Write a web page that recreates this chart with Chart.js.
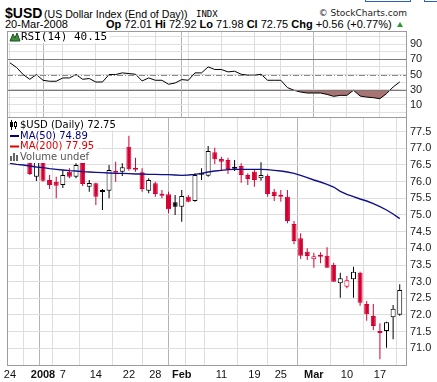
<!DOCTYPE html>
<html lang="en">
<head>
<meta charset="UTF-8">
<title>$USD Daily with RSI</title>
<script src="https://cdn.jsdelivr.net/npm/chart.js"></script>
<style>
body { margin: 0; background: #fff; }
#wrap { position: relative; width: 437px; height: 382px; overflow: hidden; font-family: "Liberation Sans", Arial, sans-serif; }
#wrap canvas { position: absolute; left: 0; top: 0; }
.t { position: absolute; white-space: nowrap; color: #000; }
.btn { position: absolute; border: 1px solid #2f5fc4; }
</style>
</head>
<body>
<div id="wrap">
  <div class="btn" style="left:365px;top:-10px;width:44px;height:10px"></div>
  <div class="btn" style="left:424px;top:-10px;width:20px;height:10px"></div>

  <div class="t" style="left:5px;top:6px;font:bold 14px/14px 'Liberation Sans',Arial">$USD</div>
  <div class="t" style="left:44px;top:9px;font:10.6px/11px 'Liberation Sans',Arial">(US Dollar Index (End of Day))</div>
  <div class="t" style="left:196px;top:10px;font:9px/9px 'DejaVu Sans Mono'">INDX</div>
  <div class="t" style="right:30px;top:9px;font:9px/9px 'DejaVu Sans';color:#222">© StockCharts.com</div>
  <div class="t" style="left:5px;top:19px;font:11px/11px 'Liberation Sans',Arial">20-Mar-2008</div>
  <div class="t" style="left:106px;top:19px;font:11px/11px 'Liberation Sans',Arial"><b>Op</b> 72.01 <b>Hi</b> 72.92 <b>Lo</b> 71.98 <b>Cl</b> 72.75 <b>Chg</b> +0.56 (+0.77%)</div>
  <div style="position:absolute;left:397px;top:22px;width:0;height:0;border-left:3px solid transparent;border-right:3px solid transparent;border-bottom:5px solid #2a9a2a"></div>

  <canvas id="rsiChart" width="437" height="382"></canvas>
  <canvas id="priceChart" width="437" height="382"></canvas>
</div>

<script>
// trading days shown, Dec 24 2007 .. Mar 20 2008
var dates = ['Dec 24','Dec 26','Dec 27','Dec 28','Dec 31',
  'Jan 2','Jan 3','Jan 4','Jan 7','Jan 8','Jan 9','Jan 10','Jan 11','Jan 14','Jan 15','Jan 16','Jan 17','Jan 18',
  'Jan 22','Jan 23','Jan 24','Jan 25','Jan 28','Jan 29','Jan 30','Jan 31',
  'Feb 1','Feb 4','Feb 5','Feb 6','Feb 7','Feb 8','Feb 11','Feb 12','Feb 13','Feb 14','Feb 15',
  'Feb 19','Feb 20','Feb 21','Feb 22','Feb 25','Feb 26','Feb 27','Feb 28','Feb 29',
  'Mar 3','Mar 4','Mar 5','Mar 6','Mar 7','Mar 10','Mar 11','Mar 12','Mar 13','Mar 14',
  'Mar 17','Mar 18','Mar 19','Mar 20'];

var openP = [77.15,77.00,76.95,76.78,76.15, 76.62,76.05,76.00,75.90,76.30,76.15,76.56,75.85,75.95,75.75,75.73,76.33,76.30,
  77.05,76.42,76.28,75.73,75.95,75.64,75.62,75.38, 75.25,75.55,75.42,76.27,76.18,76.88,76.68,76.65,76.45,76.47,76.20,
  76.30,76.10,76.17,75.70,75.61,75.55,74.73,74.30,73.90, 73.67,73.81,73.78,73.50,72.95,72.85,73.07,73.27,72.33,71.97,
  71.52,71.52,71.93,72.01];
var highP = [77.30,77.20,77.00,76.82,76.65, 76.66,76.20,76.15,76.35,76.40,76.55,76.58,76.05,75.97,75.78,76.50,76.60,76.55,
  77.38,76.72,76.40,76.10,76.00,75.75,75.70,75.60, 75.75,75.60,76.25,76.40,77.07,77.02,76.75,76.72,76.65,76.55,76.25,
  76.35,76.58,76.22,75.78,75.75,75.75,74.82,74.45,74.00, 73.87,73.88,74.03,73.57,73.27,73.17,73.45,73.30,72.42,72.33,
  71.75,71.80,72.30,72.92];
var lowP = [76.95,76.85,76.70,76.20,76.02, 76.00,75.78,75.50,75.81,76.10,76.10,75.87,75.70,75.30,75.15,75.50,76.00,76.17,
  76.33,76.30,75.70,75.65,75.55,75.50,75.05,75.00, 74.80,75.38,75.40,76.05,76.15,76.53,76.35,76.23,76.32,75.97,75.90,
  75.85,76.03,75.55,75.42,75.40,74.75,74.12,73.68,73.65, 73.42,73.55,73.42,73.00,72.52,72.80,72.52,72.28,71.83,71.55,
  70.67,71.02,71.27,71.98];
var closeP = [77.05,76.95,76.75,76.23,76.60, 76.03,75.90,75.88,76.20,76.15,76.50,75.93,75.96,75.55,75.69,76.35,76.27,76.43,
  76.37,76.36,75.78,76.05,75.63,75.58,75.17,75.25, 75.57,75.40,76.20,76.21,76.92,76.67,76.60,76.38,76.39,76.20,76.08,
  76.05,76.20,75.63,75.57,75.55,74.82,74.22,73.78,73.77, 73.76,73.75,73.42,73.00,73.10,73.04,73.30,72.37,72.02,71.67,
  71.46,71.78,72.19,72.75];

var ma50 = [76.55,76.52,76.50,76.47,76.44, 76.42,76.39,76.37,76.35,76.33,76.32,76.30,76.29,76.28,76.27,76.26,76.25,76.25,
  76.24,76.23,76.23,76.22,76.22,76.21,76.21,76.20, 76.19,76.20,76.22,76.25,76.29,76.32,76.34,76.36,76.37,76.37,76.37,
  76.37,76.37,76.36,76.34,76.32,76.29,76.25,76.19,76.12, 76.05,75.99,75.92,75.84,75.71,75.62,75.55,75.48,75.42,75.34,
  75.25,75.15,75.03,74.89];
var ma200Last = 77.95;

var rsi14 = [65.5,59.3,50.0,43.7,50.0, 42.4,41.1,41.1,45.5,45.5,50.0,43.7,44.7,40.1,40.1,50.0,50.0,52.2,
  51.3,50.4,41.5,45.5,42.4,42.4,37.1,38.8, 43.3,42.4,52.2,52.2,60.1,56.7,56.7,53.5,54.4,50.4,49.1,
  49.1,50.4,42.4,42.4,42.4,32.7,29.1,26.8,25.5, 25.5,25.5,23.7,21.1,22.4,22.4,29.1,21.5,20.1,19.3,
  18.0,24.7,33.5,40.15];

// x axis: weekly grid lines, some labelled
var tickIdx  = [0, 4, 5, 8, 13, 18, 22, 26, 27, 32, 37, 41, 46, 51, 56];
var tickText = ['24', '', '2008', '7', '14', '22', '28', 'Feb', '', '11', '19', '25', 'Mar', '10', '17'];
var monthIdx = [5, 26, 46];

var priceTicks = [71.0, 71.5, 72.0, 72.5, 73.0, 73.5, 74.0, 74.5, 75.0, 75.5, 76.0, 76.5, 77.0, 77.5];
var rsiTicks = [0, 10, 20, 30, 40, 50, 60, 70, 80, 90, 100];
var rsiLabels = [90, 70, 50, 30, 10];

var xMin = -0.45, xMax = 60.1;
var downColor = '#d40032', upColor = '#000000';

var candleColor = closeP.map(function (c, i) { return (i > 0 && c < closeP[i - 1]) ? downColor : upColor; });
var bodyFill = closeP.map(function (c, i) { return c > openP[i] ? '#ffffff' : candleColor[i]; });

function xScaleOpts(showLabels) {
    return {
        type: 'linear', min: xMin, max: xMax, offset: false,
        afterBuildTicks: function (s) { s.ticks = tickIdx.map(function (v) { return { value: v }; }); },
        afterFit: function (s) { s.height = showLabels ? 16 : 0; },
        ticks: {
            display: showLabels, autoSkip: false, maxRotation: 0, padding: 2, color: '#111',
            callback: function (v) { var k = tickIdx.indexOf(v); return k < 0 ? '' : tickText[k]; },
            font: function (c) {
                var bold = c.tick && monthIdx.indexOf(c.tick.value) >= 0;
                return { family: 'Liberation Sans', size: 11, weight: bold ? 'bold' : 'normal' };
            }
        },
        grid: {
            drawTicks: false,
            color: function (c) { return (c.tick && monthIdx.indexOf(c.tick.value) >= 0) ? '#b4b4b4' : '#dedede'; }
        },
        border: { display: false }
    };
}

var frame = {
    id: 'frame',
    afterDraw: function (chart) {
        var a = chart.chartArea, ctx = chart.ctx;
        ctx.save();
        ctx.strokeStyle = '#9c9c9c';
        ctx.lineWidth = 1;
        ctx.strokeRect(Math.round(a.left) + 0.5, Math.round(a.top) + 0.5, Math.round(a.right - a.left) - 1, Math.round(a.bottom - a.top) - 1);
        ctx.restore();
    }
};

var rsiDecor = {
    id: 'rsiDecor',
    afterDatasetsDraw: function (chart) {
        var ctx = chart.ctx, a = chart.chartArea, y = chart.scales.y;
        ctx.save();
        ctx.lineWidth = 1;
        ctx.strokeStyle = '#7a7a7a';
        [70, 30].forEach(function (v) {
            var py = Math.round(y.getPixelForValue(v)) + 0.5;
            ctx.beginPath(); ctx.moveTo(a.left, py); ctx.lineTo(a.right, py); ctx.stroke();
        });
        var p50 = Math.round(y.getPixelForValue(50)) + 0.5;
        ctx.setLineDash([6, 2, 1, 2]);
        ctx.strokeStyle = '#8a8a8a';
        ctx.beginPath(); ctx.moveTo(a.left, p50); ctx.lineTo(a.right, p50); ctx.stroke();
        ctx.setLineDash([]);

        // label box
        var txt = 'RSI(14) ' + rsi14[rsi14.length - 1].toFixed(2);
        ctx.font = '11px "DejaVu Sans Mono"';
        var w = ctx.measureText(txt).width;
        ctx.fillStyle = '#ffffff';
        ctx.fillRect(a.left + 1, a.top + 1, w + 16, 11);
        ctx.beginPath();
        ctx.moveTo(10, 41); ctx.lineTo(13, 34); ctx.lineTo(15, 38); ctx.lineTo(17, 33); ctx.lineTo(20, 41); ctx.closePath();
        ctx.fillStyle = '#3d8f3d'; ctx.fill();
        ctx.strokeStyle = '#1e4f1e'; ctx.stroke();
        ctx.fillStyle = '#000';
        ctx.textBaseline = 'middle';
        ctx.fillText(txt, 21, 37.5);
        ctx.restore();
    }
};

var priceLegend = {
    id: 'priceLegend',
    afterDatasetsDraw: function (chart) {
        var ctx = chart.ctx, a = chart.chartArea;
        var rows = [
            { text: '$USD (Daily) ' + closeP[closeP.length - 1].toFixed(2), color: '#000000', y: 125 },
            { text: 'MA(50) ' + ma50[ma50.length - 1].toFixed(2), color: '#000080', y: 136 },
            { text: 'MA(200) ' + ma200Last.toFixed(2), color: '#e00000', y: 146.5 },
            { text: 'Volume undef', color: '#555555', y: 157.5 }
        ];
        ctx.save();
        ctx.font = '10px "DejaVu Sans"';
        ctx.textBaseline = 'middle';
        rows.forEach(function (r, i) {
            var w = ctx.measureText(r.text).width;
            ctx.fillStyle = '#ffffff';
            ctx.fillRect(a.left + 1, i === 0 ? a.top + 1 : r.y - 5.5, w + 15, i === 0 ? r.y + 5.5 - a.top - 1 : 11);
            ctx.fillStyle = r.color;
            ctx.fillText(r.text, 20, r.y);
        });
        // icons
        ctx.fillStyle = '#000';
        ctx.fillRect(11, 120, 1, 10); ctx.fillRect(10, 122, 3, 5);
        ctx.fillRect(15, 121, 1, 8);
        ctx.fillRect(14, 122, 3, 5); ctx.fillStyle = '#fff'; ctx.fillRect(15, 123, 1, 3);
        ctx.fillStyle = '#000080'; ctx.fillRect(10, 135, 9, 2);
        ctx.fillStyle = '#e00000'; ctx.fillRect(10, 145.5, 9, 2);
        ctx.fillStyle = '#666';
        ctx.fillRect(10, 156, 2, 5); ctx.fillRect(13, 153, 2, 8); ctx.fillRect(16, 155, 2, 6);
        ctx.restore();
    }
};

new Chart(document.getElementById('rsiChart'), {
    type: 'line',
    data: {
        datasets: [{
            data: rsi14.map(function (v, i) { return { x: i, y: v }; }),
            borderColor: '#000000',
            borderWidth: 1,
            pointRadius: 0,
            tension: 0,
            fill: { target: { value: 30 }, above: 'rgba(0,0,0,0)', below: '#a87372' }
        }]
    },
    options: {
        responsive: false,
        animation: false,
        layout: { padding: { left: 7, top: 31, right: 0, bottom: 264 } },
        plugins: { legend: { display: false }, tooltip: { enabled: false } },
        scales: {
            x: xScaleOpts(false),
            y: {
                position: 'right', min: -7.6, max: 107.7,
                afterBuildTicks: function (s) { s.ticks = rsiTicks.map(function (v) { return { value: v }; }); },
                afterFit: function (s) { s.width = 30; },
                ticks: {
                    autoSkip: false, padding: 3, color: '#222', font: { family: 'Liberation Sans', size: 11 },
                    callback: function (v) { return rsiLabels.indexOf(v) >= 0 ? String(v) : ''; }
                },
                grid: { drawTicks: false, color: '#e0e0e0' },
                border: { display: false }
            }
        }
    },
    plugins: [rsiDecor, frame]
});

new Chart(document.getElementById('priceChart'), {
    type: 'bar',
    data: {
        datasets: [{
            type: 'line',
            data: ma50.map(function (v, i) { return { x: i, y: v }; }),
            borderColor: '#10108c',
            borderWidth: 1.4,
            pointRadius: 0,
            tension: 0,
            order: 0
        }, {
            data: openP.map(function (o, i) { return { x: i, y: [o, closeP[i]] }; }),
            backgroundColor: bodyFill,
            borderColor: candleColor,
            borderWidth: 1,
            borderSkipped: false,
            inflateAmount: 0,
            barThickness: 5,
            grouped: false,
            order: 1
        }, {
            data: lowP.map(function (l, i) { return { x: i, y: [l, highP[i]] }; }),
            backgroundColor: candleColor,
            borderWidth: 0,
            inflateAmount: 0,
            barThickness: 1,
            grouped: false,
            order: 2
        }]
    },
    options: {
        responsive: false,
        animation: false,
        layout: { padding: { left: 7, top: 117, right: 0, bottom: 0 } },
        plugins: { legend: { display: false }, tooltip: { enabled: false } },
        scales: {
            x: xScaleOpts(true),
            y: {
                position: 'right', min: 70.47, max: 77.94,
                afterBuildTicks: function (s) { s.ticks = priceTicks.map(function (v) { return { value: v }; }); },
                afterFit: function (s) { s.width = 30; },
                ticks: {
                    autoSkip: false, padding: 3, color: '#222', font: { family: 'Liberation Sans', size: 11 },
                    callback: function (v) { return v.toFixed(1); }
                },
                grid: { drawTicks: false, color: '#dedede' },
                border: { display: false }
            }
        }
    },
    plugins: [priceLegend, frame]
});
</script>
</body>
</html>
